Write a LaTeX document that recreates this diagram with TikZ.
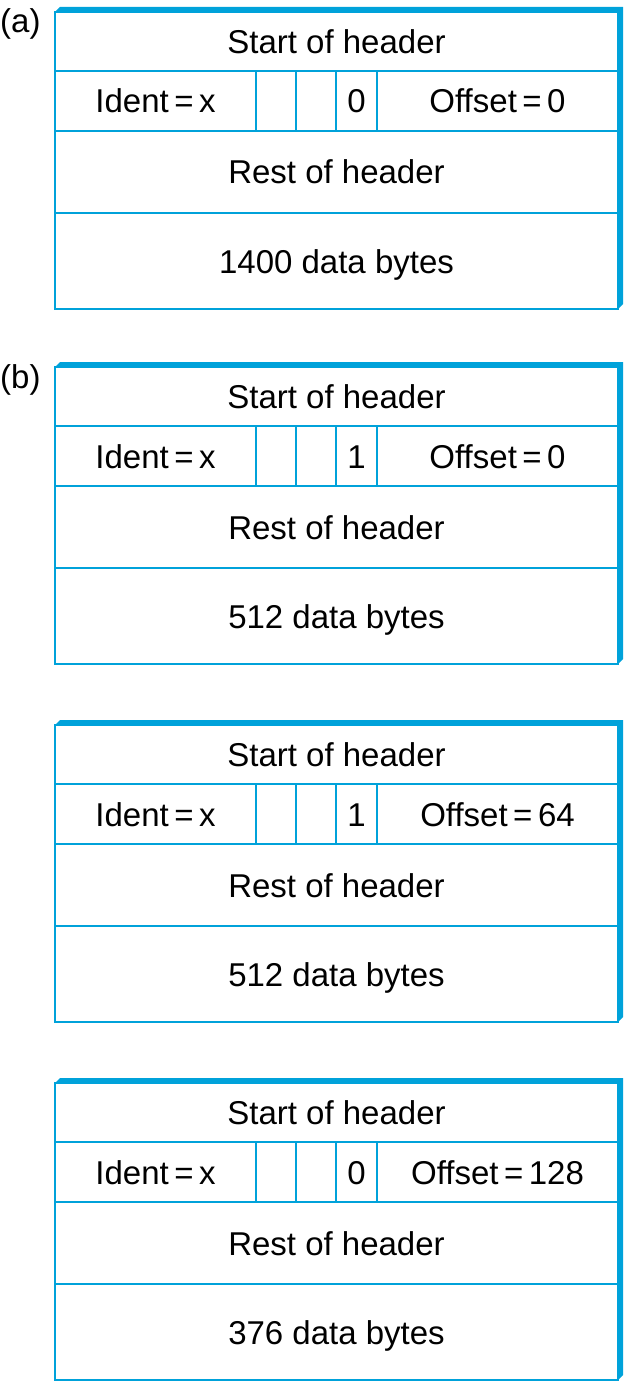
\documentclass[tikz,border=0pt]{standalone}
\usepackage{fontspec}
\setmainfont{Liberation Sans}
\definecolor{pktblue}{RGB}{0,162,218}
\begin{document}
\begin{tikzpicture}[x=1pt,y=-1pt]
    \tikzstyle{cell}=[draw=pktblue,fill=white,line width=1.8pt,anchor=north west,inner sep=0pt,outer sep=0pt,
                      text height=24pt,text depth=0pt,font=\fontsize{33}{36}\selectfont]
    \tikzstyle{tag}=[anchor=base west,inner sep=0pt,font=\fontsize{33}{36}\selectfont]
    \useasboundingbox (0,0) rectangle (625,1383);

    \node[tag] (tag-a) at (0,33) {(a)};
    \node[tag] (tag-b) at (0,388) {(b)};

    \foreach \p/\t/\mf/\off/\data in {a/12/0/0/1400, b/367/1/0/512, c/725/1/64/512, d/1083/0/128/376} {
        % thick shadow on top and right
        \fill[pktblue] (55,\t) -- (60,\t-5) -- (623,\t-5) -- (623,\t+292) -- (618,\t+297) -- cycle;
        \node[cell,minimum width=563pt,minimum height=59pt] (\p-start) at (55,\t) {Start of header};
        \node[cell,minimum width=201pt,minimum height=60pt] (\p-id) at (\p-start.south west) {Ident\,=\,x};
        \node[cell,minimum width=40pt,minimum height=60pt] (\p-f1) at (\p-id.north east) {};
        \node[cell,minimum width=40pt,minimum height=60pt] (\p-f2) at (\p-f1.north east) {};
        \node[cell,minimum width=41pt,minimum height=60pt] (\p-mf) at (\p-f2.north east) {\mf};
        \node[cell,minimum width=241pt,minimum height=60pt] (\p-off) at (\p-mf.north east) {Offset\,=\,\off};
        \node[cell,minimum width=563pt,minimum height=82pt] (\p-rest) at (\p-id.south west) {Rest of header};
        \node[cell,minimum width=563pt,minimum height=96pt] (\p-data) at (\p-rest.south west) {\data\ data bytes};
    }
\end{tikzpicture}
\end{document}
